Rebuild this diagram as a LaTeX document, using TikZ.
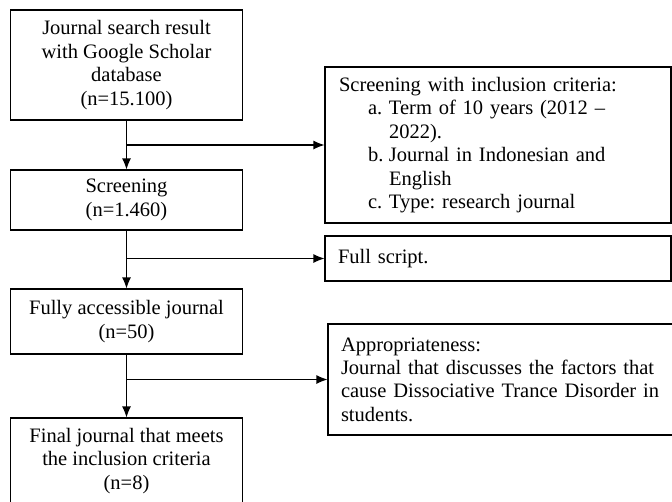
\documentclass[tikz,border=0pt]{standalone}
\usepackage{fontspec}
\setmainfont{Liberation Serif}
\usetikzlibrary{arrows.meta}
\frenchspacing
\begin{document}
\begin{tikzpicture}[x=1pt,y=1pt,
	stage/.style={ draw, line width=1.1pt, inner sep=0pt, minimum width=232pt, align=center, font=\fontsize{20.5}{23.4}\selectfont },
	note/.style={ draw, line width=1.1pt, inner ysep=0pt, inner xsep=14pt, align=left, font=\fontsize{20.5}{23.4}\selectfont },
	flow/.style={ -{Latex[length=11pt,width=9pt]}, line width=1.1pt }
]
\useasboundingbox (0,0) rectangle (672,-501);

\node at (126.5,-65) (search) [stage,minimum height=110pt] {Journal search result\\with Google Scholar\\database\\(n=15.100)};
\node at (126.5,-200) (screen) [stage,minimum height=60pt] {Screening\\(n=1.460)};
\node at (126.5,-321.5) (access) [stage,minimum height=65pt] {Fully accessible journal\\(n=50)};
\node at (126.5,-461) (final) [stage,minimum height=86pt] {Final journal that meets\\the inclusion criteria\\(n=8)};

\node at (498,-145) (crit) [note,text width=318pt,minimum height=156pt] {Screening with inclusion criteria:\\
\hspace*{29pt}\makebox[21pt][l]{a.}Term of 10 years (2012 --\\
\hspace*{50pt}2022).\\
\hspace*{29pt}\makebox[21pt][l]{b.}Journal in Indonesian and\\
\hspace*{50pt}English\\
\hspace*{29pt}\makebox[21pt][l]{c.}Type: research journal};
\node at (498,-258.5) (full) [note,text width=320pt,inner xsep=13pt,minimum height=45pt] {Full script.};
\node at (508,-379.5) (appr) [note,text width=334pt,inner xsep=13pt,minimum height=111pt] {Appropriateness:\\Journal that discusses the factors that\\cause Dissociative Trance Disorder in\\students.};

\draw[flow] (search) -- (screen);
\draw[flow] (screen) -- (access);
\draw[flow] (access) -- (final);
\draw[flow] (search.south |- crit.west) -- (crit.west);
\draw[flow] (screen.south |- full.west) -- (full.west);
\draw[flow] (access.south |- appr.west) -- (appr.west);

\end{tikzpicture}
\end{document}
